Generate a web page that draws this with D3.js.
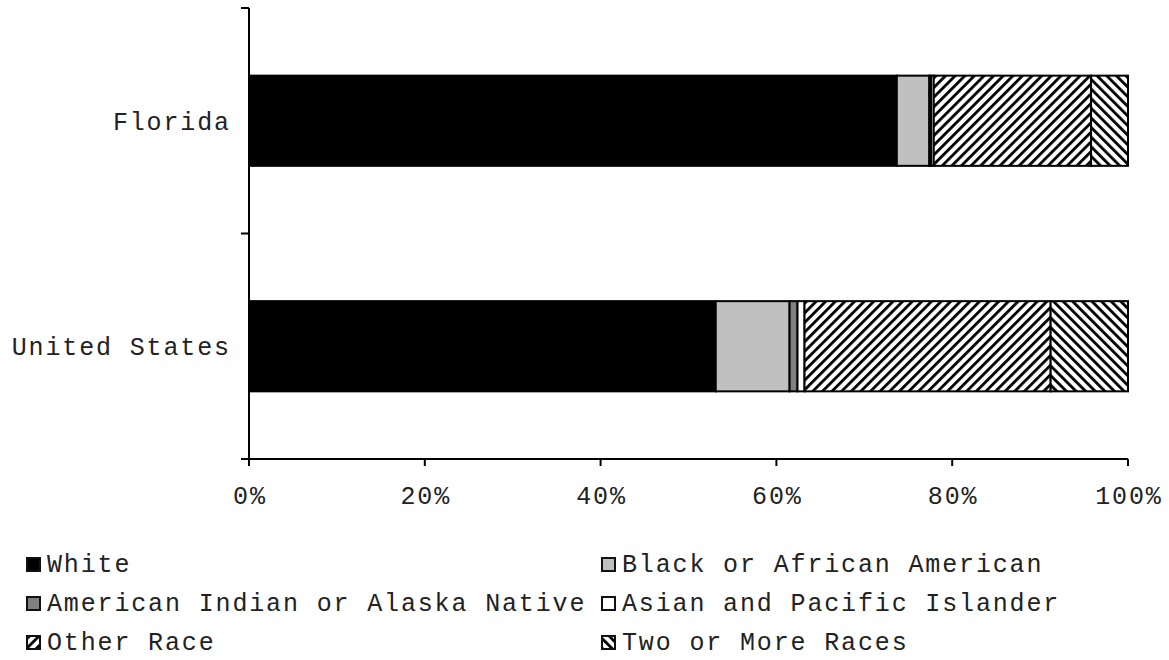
<!DOCTYPE html>
<html><head><meta charset="utf-8">
<script src="https://cdn.jsdelivr.net/npm/d3@7"></script>
<style>
html,body{margin:0;padding:0;background:#fff;}
text{font-family:"Liberation Mono",monospace;fill:#222;}
</style></head>
<body><svg id="c" width="1169" height="660"></svg>
<script>
const categories = ["Florida", "United States"];
const seriesNames = ["White", "Black or African American", "American Indian or Alaska Native", "Asian and Pacific Islander", "Other Race", "Two or More Races"];
const floridaValues = [73.7, 3.7, 0.2, 0.3, 17.9, 4.2];
const usValues = [53.1, 8.4, 0.9, 0.8, 28.0, 8.8];
const xTicks = [0, 20, 40, 60, 80, 100];
const fills = ["#000000", "#c0c0c0", "#808080", "#ffffff", "url(#hatchFwd)", "url(#hatchBack)"];

(function(){
const FS = "25px", LS = 1.85;
const svg = d3.select("#c");
const defs = svg.append("defs");
function hatch(id, angle){
  const p = defs.append("pattern").attr("id", id).attr("patternUnits","userSpaceOnUse")
    .attr("width", 6.8).attr("height", 6.8).attr("patternTransform", `rotate(${angle})`);
  p.append("rect").attr("width",6.8).attr("height",6.8).attr("fill","#fff");
  p.append("rect").attr("width",2.8).attr("height",6.8).attr("fill","#000");
}
hatch("hatchFwd", 45);
hatch("hatchBack", -45);

const L = 249, R = 1128, T = 8, B = 459;
const x = d3.scaleLinear().domain([0,100]).range([L,R]);
const y = d3.scaleBand().domain(categories).range([T,B]).paddingInner(0.6).paddingOuter(0.3);

const data = categories.map((c,i)=>({cat:c, vals: i===0?floridaValues:usValues}));
data.forEach(d=>{
  let acc = 0;
  d.vals.forEach((v,j)=>{
    svg.append("rect")
      .attr("x", x(acc)).attr("y", y(d.cat))
      .attr("width", x(acc+v)-x(acc)).attr("height", y.bandwidth())
      .attr("fill", fills[j]).attr("stroke","#000").attr("stroke-width",2);
    acc += v;
  });
});

// y axis
const band = (B-T)/categories.length;
svg.append("line").attr("x1",L).attr("x2",L).attr("y1",T).attr("y2",B).attr("stroke","#000").attr("stroke-width",2);
[0,1,2].forEach(i=>{
  const yy = T + i*band;
  svg.append("line").attr("x1",L-8).attr("x2",L).attr("y1",yy).attr("y2",yy).attr("stroke","#000").attr("stroke-width",2);
});
categories.forEach(c=>{
  svg.append("text").attr("x", 229).attr("y", y(c)+y.bandwidth()/2)
    .attr("dy","0.35em").attr("text-anchor","end")
    .style("font-size",FS).style("letter-spacing",LS+"px")
    .attr("dx", LS).text(c);
});

// x axis
svg.append("line").attr("x1",L).attr("x2",R).attr("y1",B).attr("y2",B).attr("stroke","#000").attr("stroke-width",2);
xTicks.forEach(t=>{
  svg.append("line").attr("x1",x(t)).attr("x2",x(t)).attr("y1",B).attr("y2",B+7).attr("stroke","#000").attr("stroke-width",2);
  svg.append("text").attr("x",x(t)+LS/2).attr("y",504).attr("text-anchor","middle")
    .style("font-size",FS).style("letter-spacing",LS+"px").text(t+"%");
});

// legend
const legPos = [[26,557],[601,557],[26,596],[601,596],[26,635],[601,635]];
seriesNames.forEach((n,i)=>{
  const [lx,ly] = legPos[i];
  svg.append("rect").attr("x",lx+1).attr("y",ly+1).attr("width",13).attr("height",13)
    .attr("fill",fills[i]).attr("stroke","#111").attr("stroke-width",2);
  svg.append("text").attr("x",lx+21).attr("y",ly+15)
    .style("font-size",FS).style("letter-spacing",LS+"px").text(n);
});
})();
</script></body></html>
